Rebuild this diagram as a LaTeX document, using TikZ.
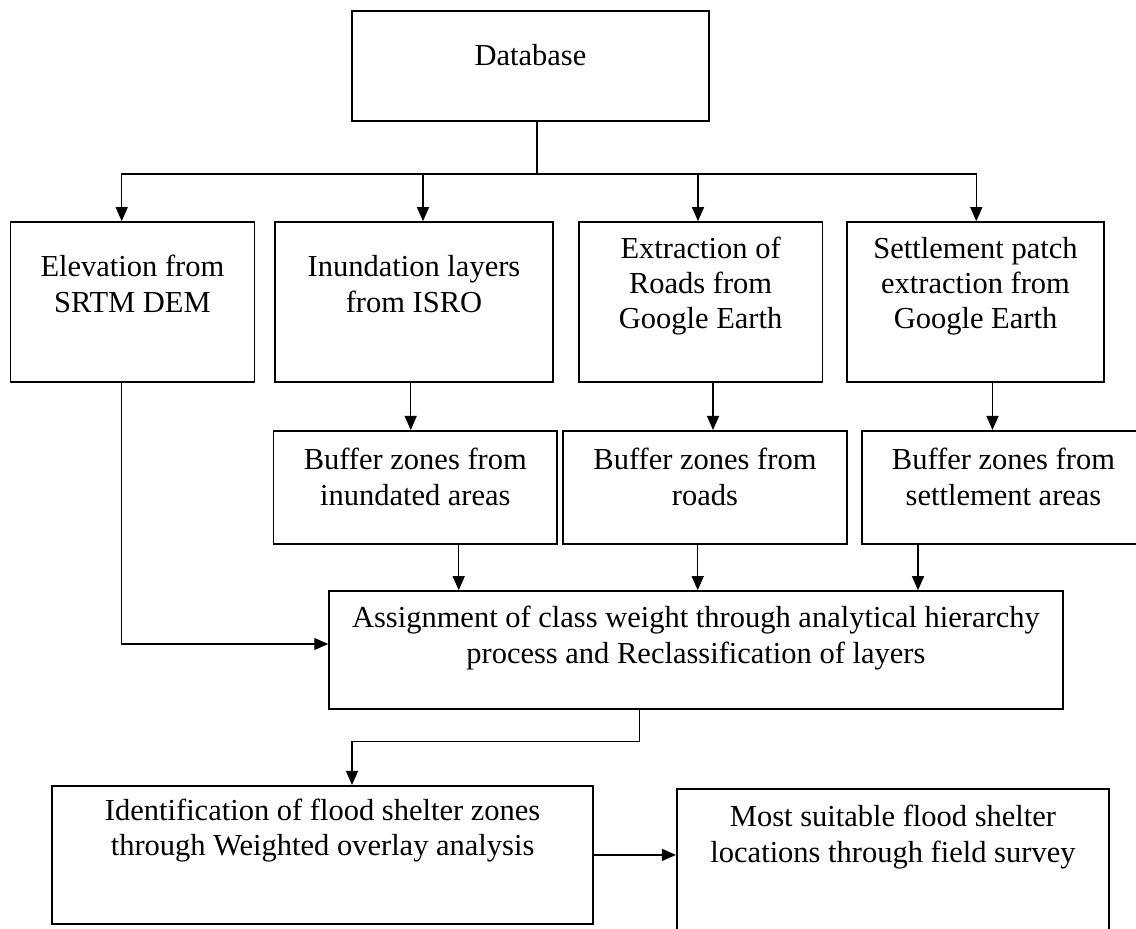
\documentclass[tikz,border=0pt]{standalone}
\usepackage{fontspec}
\setmainfont{Liberation Serif}
\usetikzlibrary{arrows.meta, positioning}

\begin{document}
\begin{tikzpicture}[x=1pt,y=-1pt,>={Triangle[length=14pt,width=12pt]}]

	\tikzstyle{box}=[rectangle,draw=black,line width=1.6pt,inner sep=0pt]
	\tikzstyle{txt}=[align=center,inner sep=0pt,font=\fontsize{30.5}{35.2}\selectfont]
	\tikzstyle{arr}=[->,line width=1.3pt]

	\useasboundingbox (0,0) rectangle (1136,929);

	% boxes
	\node [box, minimum width=357pt, minimum height=110pt] (db) at (530.5,66) {};
	\node [box, minimum width=244pt, minimum height=160pt] (elev) at (132.4,302) {};
	\node [box, minimum width=278pt, minimum height=160pt] (inund) at (414,302) {};
	\node [box, minimum width=243.6pt, minimum height=160pt] (road) at (700.6,302) {};
	\node [box, minimum width=257pt, minimum height=160pt] (settl) at (975.5,302) {};
	\node [box, minimum width=283.3pt, minimum height=113.3pt] (bufI) at (415.3,487.4) {};
	\node [box, minimum width=284pt, minimum height=113.3pt] (bufR) at (705,487.4) {};
	\node [box, minimum width=283.6pt, minimum height=113.3pt] (bufS) at (1003.5,487.4) {};
	\node [box, minimum width=733.7pt, minimum height=118pt] (ahp) at (695.9,650) {};
	\node [box, minimum width=541pt, minimum height=138.3pt] (ident) at (322.6,854.9) {};
	\node [box, minimum width=432.5pt, minimum height=151pt] (final) at (893,864.6) {};

	% texts
	\node [txt] (dbT) at ([yshift=11pt]db.center) {Database};
	\node [txt] (elevT) at ([yshift=18pt]elev.center) {Elevation from\\SRTM DEM};
	\node [txt] (inundT) at ([yshift=18pt]inund.center) {Inundation layers\\from ISRO};
	\node [txt] (roadT) at ([yshift=16pt]road.center) {Extraction of\\Roads from\\Google Earth};
	\node [txt] (settlT) at ([yshift=16pt]settl.center) {Settlement patch\\extraction from\\Google Earth};
	\node [txt] (bufIT) at ([yshift=10.5pt]bufI.center) {Buffer zones from\\inundated areas};
	\node [txt] (bufRT) at ([yshift=10.5pt]bufR.center) {Buffer zones from\\roads};
	\node [txt] (bufST) at ([yshift=10.5pt]bufS.center) {Buffer zones from\\settlement areas};
	\node [txt] (ahpT) at ([yshift=12pt]ahp.center) {Assignment of class weight through analytical hierarchy\\process and Reclassification of layers};
	\node [txt] (identT) at ([yshift=24.5pt]ident.center) {Identification of flood shelter zones\\through Weighted overlay analysis};
	\node [txt] (finalT) at ([yshift=27.5pt]final.center) {Most suitable flood shelter\\locations through field survey};

	% connectors
	\coordinate (split) at (537,174);
	\draw [line width=1.3pt] (db.south -| split) -- (split);
	\draw [arr] (split) -| ([xshift=-10.7pt]elev.north);
	\draw [arr] (split) -| ([xshift=9pt]inund.north);
	\draw [arr] (split) -| ([xshift=-2.6pt]road.north);
	\draw [arr] (split) -| ([xshift=0.8pt]settl.north);

	\draw [arr] ([xshift=-3.3pt]inund.south) -- ([xshift=-3.3pt]inund.south |- bufI.north);
	\draw [arr] ([xshift=12.4pt]road.south) -- ([xshift=12.4pt]road.south |- bufR.north);
	\draw [arr] ([xshift=17pt]settl.south) -- ([xshift=17pt]settl.south |- bufS.north);

	\draw [arr] ([xshift=43.4pt]bufI.south) -- ([xshift=43.4pt]bufI.south |- ahp.north);
	\draw [arr] ([xshift=-7.3pt]bufR.south) -- ([xshift=-7.3pt]bufR.south |- ahp.north);
	\draw [arr] ([xshift=-85.5pt]bufS.south) -- ([xshift=-85.5pt]bufS.south |- ahp.north);

	\draw [arr] ([xshift=-10.7pt]elev.south) |- ([yshift=6pt]ahp.west);
	\draw [arr] ([xshift=-56.6pt]ahp.south) -- ++(0,31.7) -| ([xshift=29.4pt]ident.north);
	\draw [arr] (ident.east) -- (ident.east -| final.west);
\end{tikzpicture}
\end{document}
